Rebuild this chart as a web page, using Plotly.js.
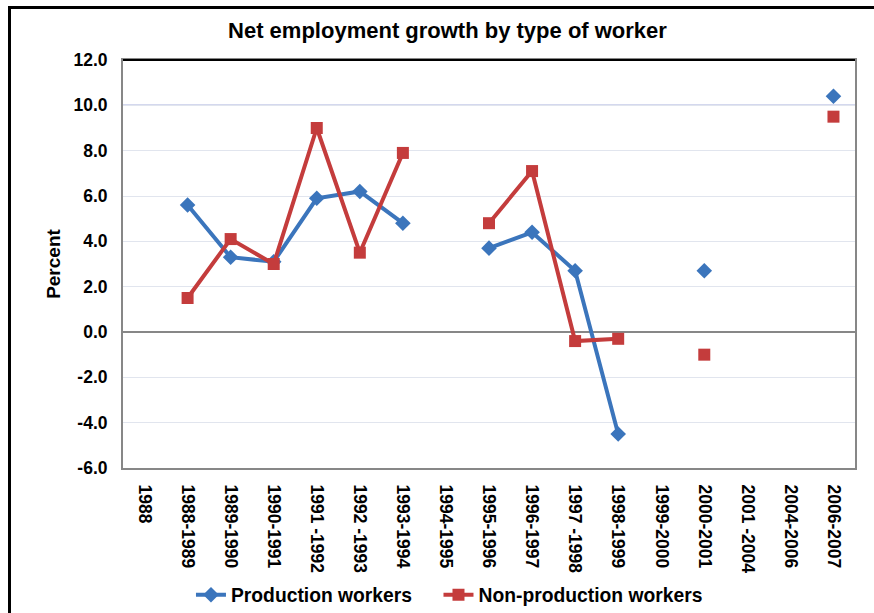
<!DOCTYPE html>
<html>
<head>
<meta charset="utf-8">
<script src="https://cdn.plot.ly/plotly-3.0.1.min.js"></script>
<style>
  html, body { margin: 0; padding: 0; background: #fff; overflow: hidden; }
  #chart { position: absolute; left: 0; top: 0; width: 874px; height: 613px; }
  #frame { position: absolute; left: 8px; top: 6px; width: 1000px; height: 1000px;
           border-left: 3px solid #000; border-top: 3px solid #000; pointer-events: none; }
</style>
</head>
<body>
<div id="chart"></div>
<div id="frame"></div>
<script>
const categories = ["1988", "1988-1989", "1989-1990", "1990-1991", "1991-1992", "1992-1993",
  "1993-1994", "1994-1995", "1995-1996", "1996-1997", "1997-1998", "1998-1999",
  "1999-2000", "2000-2001", "2001-2004", "2004-2006", "2006-2007"];
const tickLabels = ["1988", "1988-1989", "1989-1990", "1990-1991", "1991 -1992", "1992 -1993",
  "1993-1994", "1994-1995", "1995-1996", "1996-1997", "1997 -1998", "1998-1999",
  "1999-2000", "2000-2001", "2001 -2004", "2004-2006", "2006-2007"];
const productionWorkers = [null, 5.6, 3.3, 3.1, 5.9, 6.2, 4.8, null, 3.7, 4.4, 2.7, -4.5,
  null, 2.7, null, null, 10.4];
const nonProductionWorkers = [null, 1.5, 4.1, 3.0, 9.0, 3.5, 7.9, null, 4.8, 7.1, -0.4, -0.3,
  null, -1.0, null, null, 9.5];
const seriesNames = ["Production workers", "Non-production workers"];
const yTicks = [-6, -4, -2, 0, 2, 4, 6, 8, 10, 12];

const FONT = "Arial, 'Liberation Sans', sans-serif";
const PAD = "\u00a0\u00a0\u00a0\u00a0";

const traces = [
  {
    x: categories, y: productionWorkers, name: "<b>" + seriesNames[0] + "</b>" + PAD,
    type: "scatter", mode: "lines+markers", connectgaps: false,
    line: { color: "#3b75bc", width: 4 },
    marker: { symbol: "diamond", size: 12, color: "#3b75bc" }
  },
  {
    x: categories, y: nonProductionWorkers, name: "<b>" + seriesNames[1] + "</b>",
    type: "scatter", mode: "lines+markers", connectgaps: false,
    line: { color: "#c43c3c", width: 4 },
    marker: { symbol: "square", size: 12, color: "#c43c3c" }
  }
];

const layout = {
  width: 874, height: 613,
  margin: { l: 123, r: 19, t: 60, b: 145, autoexpand: false },
  paper_bgcolor: "#fff", plot_bgcolor: "#fff",
  font: { family: FONT, color: "#000" },
  showlegend: true,
  title: {
    text: "<b>Net employment growth by type of worker</b>",
    font: { family: FONT, size: 22, color: "#000" },
    x: 0.512, xref: "container", xanchor: "center",
    y: 32, yref: "container", yanchor: "middle"
  },
  xaxis: {
    type: "category", categoryorder: "array", categoryarray: categories,
    tickmode: "array", tickvals: categories, ticktext: tickLabels.map(t => "<b>" + t + "</b>"),
    tickangle: 90, tickfont: { family: FONT, size: 17.5, color: "#000" },
    range: [-0.5, categories.length - 0.5], automargin: false,
    showgrid: false, zeroline: false,
    showline: true, linecolor: "#878787", linewidth: 2, mirror: true,
    ticks: "", ticklabelstandoff: 11
  },
  yaxis: {
    range: [-6, 12], tickmode: "array", tickvals: yTicks, automargin: false,
    ticktext: yTicks.map(v => "<b>" + v.toFixed(1) + "</b>"),
    tickfont: { family: FONT, size: 17.5, color: "#000" },
    showgrid: true, gridcolor: "#e1e5ee", gridwidth: 1,
    zeroline: true, zerolinecolor: "#878787", zerolinewidth: 2,
    showline: true, linecolor: "#878787", linewidth: 2, mirror: true,
    ticks: "", ticklabelstandoff: 10,
    title: { text: "<b>Percent</b>", font: { family: FONT, size: 19, color: "#000" }, standoff: 8 }
  },
  legend: {
    orientation: "h", xref: "container", yref: "container",
    x: 0.2185, xanchor: "left", y: 0.029, yanchor: "middle",
    font: { family: FONT, size: 19.3, color: "#000" },
    itemwidth: 30, bgcolor: "rgba(0,0,0,0)", traceorder: "normal"
  },
  shapes: [
    { type: "line", xref: "paper", yref: "y", x0: 0, x1: 1, y0: 10, y1: 10,
      line: { color: "#a9b2dd", width: 1.5 }, layer: "below" },
    { type: "line", xref: "paper", yref: "paper", x0: 0, x1: 1, y0: 1, y1: 1,
      line: { color: "#000", width: 2 } }
  ]
};

Plotly.newPlot("chart", traces, layout, { staticPlot: true, displayModeBar: false });
</script>
</body>
</html>
